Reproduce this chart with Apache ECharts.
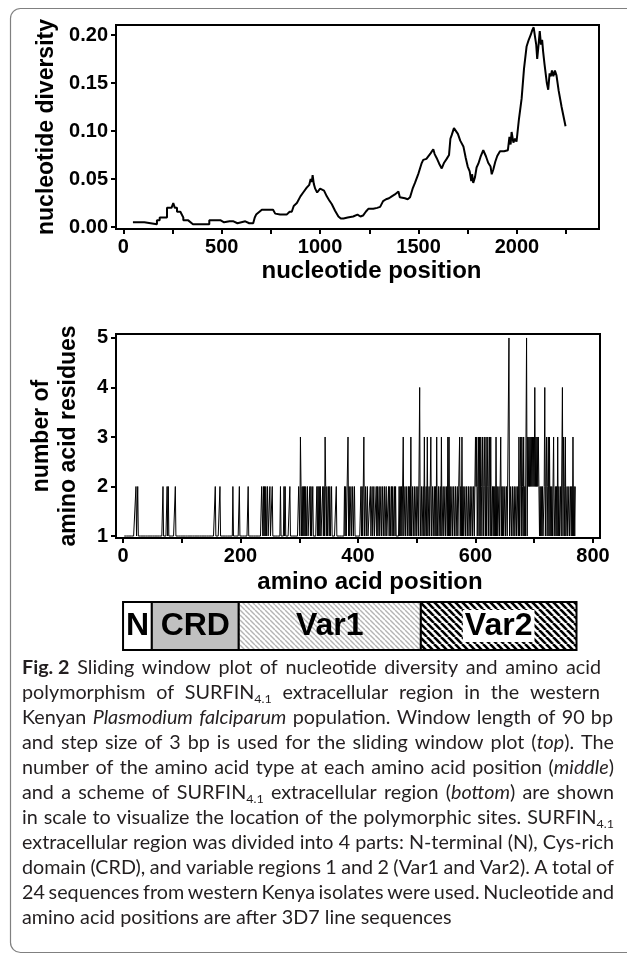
<!DOCTYPE html>
<html>
<head>
<meta charset="utf-8">
<script src="https://cdn.jsdelivr.net/npm/echarts@6/dist/echarts.min.js"></script>
<style>
  html, body { margin: 0; padding: 0; background: #fff; }
  #chart { width: 627px; height: 954px; }
</style>
</head>
<body>
<div id="chart"></div>
<script>
// top panel: sliding window nucleotide diversity [position, pi]
const ntDiversity = [
  [49,0.005],[107,0.005],[107,0.003],[171,0.003],[171,0.007],[185,0.007],[185,0.010],[222,0.010],
  [222,0.020],[245,0.020],[254,0.025],[262,0.020],[273,0.020],[273,0.016],[290,0.016],[305,0.010],
  [305,0.007],[330,0.007],[354,0.003],[437,0.003],[437,0.007],[495,0.007],[505,0.008],[512,0.005],
  [540,0.006],[560,0.006],[580,0.004],[620,0.006],[640,0.004],[660,0.004],[668,0.010],[675,0.013],
  [704,0.018],[761,0.018],[772,0.014],[797,0.013],[830,0.013],[845,0.016],[856,0.016],[866,0.022],
  [882,0.025],[900,0.032],[914,0.036],[932,0.041],[945,0.044],[952,0.050],[958,0.047],[962,0.054],
  [968,0.045],[975,0.040],[985,0.036],[995,0.038],[1000,0.040],[1010,0.038],[1020,0.038],[1034,0.032],
  [1046,0.028],[1059,0.024],[1076,0.017],[1093,0.011],[1105,0.009],[1119,0.009],[1140,0.010],[1168,0.011],
  [1190,0.013],[1205,0.011],[1218,0.012],[1232,0.016],[1245,0.019],[1270,0.019],[1290,0.020],[1305,0.021],
  [1320,0.027],[1335,0.029],[1350,0.030],[1364,0.032],[1380,0.034],[1398,0.037],[1405,0.031],[1415,0.032],
  [1431,0.030],[1445,0.029],[1457,0.031],[1470,0.040],[1482,0.046],[1500,0.056],[1515,0.066],[1524,0.070],
  [1540,0.071],[1550,0.071],[1562,0.077],[1575,0.081],[1582,0.076],[1592,0.072],[1605,0.066],[1618,0.061],
  [1630,0.067],[1643,0.071],[1655,0.075],[1662,0.092],[1669,0.096],[1680,0.103],[1690,0.101],[1700,0.097],
  [1712,0.090],[1728,0.084],[1740,0.072],[1750,0.063],[1760,0.058],[1768,0.048],[1772,0.055],[1778,0.046],
  [1787,0.052],[1795,0.062],[1804,0.066],[1815,0.073],[1829,0.080],[1842,0.074],[1854,0.067],[1866,0.063],
  [1872,0.055],[1880,0.060],[1890,0.068],[1900,0.074],[1914,0.079],[1935,0.079],[1954,0.080],[1962,0.094],
  [1968,0.086],[1973,0.099],[1982,0.088],[1990,0.092],[1998,0.089],[2010,0.112],[2024,0.134],[2036,0.165],
  [2049,0.188],[2060,0.195],[2070,0.200],[2078,0.205],[2085,0.208],[2092,0.198],[2098,0.190],[2103,0.175],
  [2110,0.190],[2116,0.204],[2122,0.190],[2128,0.195],[2133,0.183],[2140,0.170],[2152,0.150],[2159,0.143],
  [2166,0.160],[2172,0.157],[2178,0.163],[2185,0.157],[2193,0.163],[2201,0.158],[2212,0.142],[2227,0.125],
  [2240,0.112],[2247,0.105]
];
const ntTicks = [0,250,500,750,1000,1250,1500,1750,2000,2250];
const ntLabels = [0,500,1000,1500,2000];
const piLabels = [0,0.05,0.10,0.15,0.20];

// middle panel: number of amino acid types per position (all others = 1)
const aaFirst = 2;
const aaLast = 770;
const aaTwo = [22,25,68,75,77,89,157,165,187,198,213,236,237,239,241,243,246,250,254,268,274,276,284,
  299,300,303,305,307,309,311,314,318,320,323,330,332,334,336,340,342,345,347,350,352,355,363,377,379,
  385,388,391,394,405,407,413,416,421,424,427,431,433,436,439,442,445,448,452,454,457,459,462,464,470,
  472,474,480,483,486,488,493,496,499,502,508,511,516,521,527,530,532,537,540,545,548,551,557,560,563,
  566,569,575,579,582,585,588,591,594,597,601,604,610,613,616,620,623,629,631,633,637,640,645,647,650,
  653,660,663,666,669,672,676,680,684,690,692,694,696,698,700,702,704,706,708,710,712,714,717,720,723,
  728,730,736,738,742,745,751,756,759,762,764,768,770];
const aaThree = [302,344,383,410,477,490,513,518,524,534,542,553,555,573,577,600,602,605,607,609,612,
  615,618,621,624,626,635,643,674,677,679,682,686,689,691,693,695,697,699,703,705,707,721,724,726,733,
  740,750,753,766];
const aaFour = [505,701,718,748];
const aaFive = [657,687];
const aaTicks = [0,100,200,300,400,500,600,700,800];
const aaLabels = [0,200,400,600,800];
const countLabels = [1,2,3,4,5];

// bottom scheme of the extracellular region
const segNames = ['N','CRD','Var1','Var2'];
const segStart = [0,49,197,507];
const segEnd = [49,197,507,772];

const captionLines = [
  '{b|Fig. 2}  Sliding window plot of nucleotide diversity and amino acid',
  'polymorphism of SURFIN{s|4.1} extracellular region in the western',
  'Kenyan {i|Plasmodium} {i|falciparum} population. Window length of 90 bp',
  'and step size of 3 bp is used for the sliding window plot ({i|top}). The',
  'number of the amino acid type at each amino acid position ({i|middle})',
  'and a scheme of SURFIN{s|4.1} extracellular region ({i|bottom}) are shown',
  'in scale to visualize the location of the polymorphic sites. SURFIN{s|4.1}',
  'extracellular region was divided into 4 parts: N-terminal (N), Cys-rich',
  'domain (CRD), and variable regions 1 and 2 (Var1 and Var2). A total of',
  '24 sequences from western Kenya isolates were used. Nucleotide and',
  'amino acid positions are after 3D7 line sequences'
];

const aaSets = [new Set(aaTwo), new Set(aaThree), new Set(aaFour), new Set(aaFive)];
const aaData = [];
for (let p = aaFirst; p <= aaLast; p++) {
  let v = 1;
  aaSets.forEach((s, k) => { if (s.has(p)) v = k + 2; });
  aaData.push([p, v]);
}

function hatch(size, color, width) {
  const c = document.createElement('canvas');
  c.width = size; c.height = size;
  const ctx = c.getContext('2d');
  ctx.fillStyle = '#fff';
  ctx.fillRect(0, 0, size, size);
  ctx.strokeStyle = color;
  ctx.lineWidth = width;
  for (let k = -1; k <= 1; k++) {
    ctx.beginPath();
    ctx.moveTo(k * size, 0);
    ctx.lineTo(k * size + size, size);
    ctx.stroke();
  }
  return c;
}
const segFills = [
  '#fff',
  '#c0c0c0',
  { image: hatch(5, '#b4b4b4', 1.4), repeat: 'repeat' },
  { image: hatch(7, '#000', 2.6), repeat: 'repeat' }
];

const AX = '"Liberation Sans", Arial, sans-serif';
const CAP = 'Lato, "Open Sans", sans-serif';
const CAP_SIZE = 19;
const CAP_SCALE = 1.04;
const CAP_LEFT = 22, CAP_TOP = 668, CAP_STEP = 25;
// right edge of each caption line (0 = natural spacing)
const capRight = [601, 600, 613, 614, 614, 614, 614, 614, 614, 614, 0];

// caption: one text element per word, spread to each line's right edge
const capFonts = {
  n: CAP_SIZE + 'px ' + CAP,
  b: 'bold ' + CAP_SIZE + 'px ' + CAP,
  i: 'italic ' + CAP_SIZE + 'px ' + CAP,
  s: '12px ' + CAP
};
const capRich = {
  b: { fontFamily: CAP, fontSize: CAP_SIZE, fontWeight: 'bold', fill: '#231f20', lineHeight: 25 },
  i: { fontFamily: CAP, fontSize: CAP_SIZE, fontStyle: 'italic', fill: '#231f20', lineHeight: 25 },
  s: { fontFamily: CAP, fontSize: 12, fill: '#231f20', verticalAlign: 'bottom', lineHeight: 25 }
};
const meas = document.createElement('canvas').getContext('2d');
function splitWords(line) {
  const words = [];
  let cur = '', depth = 0;
  for (const ch of line) {
    if (ch === '{') depth++;
    if (ch === '}') depth--;
    if (ch === ' ' && depth === 0) { if (cur) words.push(cur); cur = ''; }
    else cur += ch;
  }
  if (cur) words.push(cur);
  return words;
}
function wordWidth(w) {
  let total = 0;
  w.replace(/\{(\w)\|([^}]*)\}|([^{}]+)/g, (m, k, t, plain) => {
    meas.font = capFonts[k || 'n'];
    total += meas.measureText(k ? t : plain).width;
    return m;
  });
  return total * CAP_SCALE;
}
meas.font = capFonts.n;
const spaceW = meas.measureText(' ').width * CAP_SCALE;
const captionGraphics = [];
captionLines.forEach((line, k) => {
  const words = splitWords(line);
  const widths = words.map(wordWidth);
  const sum = widths.reduce((a, b) => a + b, 0);
  const gap = capRight[k] ? (capRight[k] - CAP_LEFT - sum) / (words.length - 1) : spaceW;
  let x = CAP_LEFT;
  words.forEach((w, j) => {
    captionGraphics.push({
      type: 'text', x: x, y: CAP_TOP + k * CAP_STEP, scaleX: CAP_SCALE, silent: true,
      style: {
        text: w, fill: '#231f20', fontFamily: CAP, fontSize: CAP_SIZE,
        verticalAlign: 'middle', lineHeight: 25, rich: capRich
      }
    });
    x += widths[j] + gap;
  });
});

function axisCommon(ticks, labels, fmt) {
  return {
    splitLine: { show: false },
    axisLine: { onZero: false, lineStyle: { color: '#000', width: 2 } },
    axisTick: { customValues: ticks, length: 5, lineStyle: { color: '#000', width: 2 } },
    axisLabel: {
      customValues: labels, formatter: fmt, color: '#000', fontSize: 20,
      fontWeight: 'bold', fontFamily: AX
    }
  };
}
const nameStyle = { color: '#000', fontSize: 24, fontWeight: 'bold', fontFamily: AX };

const chart = echarts.init(document.getElementById('chart'));
const option = {
  animation: false,
  grid: [
    { left: 116, top: 25, width: 483, height: 204, show: true, borderColor: '#000', borderWidth: 2 },
    { left: 116, top: 334, width: 484, height: 204, show: true, borderColor: '#000', borderWidth: 2 },
    { left: 116, top: 602, width: 484, height: 48 }
  ],
  xAxis: [
    Object.assign(axisCommon(ntTicks, ntLabels, v => String(v)), {
      type: 'value', gridIndex: 0, min: -37, max: 2417,
      name: 'nucleotide position', nameLocation: 'middle', nameGap: 30,
      nameTextStyle: Object.assign({ padding: [0, 0, 0, 28] }, nameStyle)
    }),
    Object.assign(axisCommon(aaTicks, aaLabels, v => String(v)), {
      type: 'value', gridIndex: 1, min: -12, max: 812,
      name: 'amino acid position', nameLocation: 'middle', nameGap: 32,
      nameTextStyle: Object.assign({ padding: [0, 0, 0, 24] }, nameStyle)
    }),
    { type: 'value', gridIndex: 2, min: -12, max: 812, show: false }
  ],
  yAxis: [
    Object.assign(axisCommon(piLabels, piLabels, v => v.toFixed(2)), {
      type: 'value', gridIndex: 0, min: -0.002, max: 0.2104,
      name: 'nucleotide diversity', nameLocation: 'middle', nameGap: 54,
      nameTextStyle: Object.assign({}, nameStyle, { fontSize: 23 })
    }),
    Object.assign(axisCommon(countLabels, countLabels, v => String(v)), {
      type: 'value', gridIndex: 1, min: 0.96, max: 5.08,
      name: 'number of\namino acid residues', nameLocation: 'middle', nameGap: 34,
      nameTextStyle: Object.assign({}, nameStyle, { fontSize: 23, lineHeight: 27 })
    }),
    { type: 'value', gridIndex: 2, min: 0, max: 1, show: false }
  ],
  series: [
    {
      type: 'line', xAxisIndex: 0, yAxisIndex: 0, data: ntDiversity,
      showSymbol: false, lineStyle: { color: '#000', width: 2 }
    },
    {
      type: 'line', xAxisIndex: 1, yAxisIndex: 1, data: aaData,
      showSymbol: false, lineStyle: { color: '#000', width: 1 }
    },
    {
      type: 'custom', xAxisIndex: 2, yAxisIndex: 2,
      data: segNames.map((n, i) => [segStart[i], segEnd[i], i]),
      renderItem: (params, api) => {
        const a = api.coord([api.value(0), 1]);
        const b = api.coord([api.value(1), 0]);
        const i = api.value(2);
        return {
          type: 'group',
          children: [
            {
              type: 'rect',
              shape: { x: a[0], y: a[1], width: b[0] - a[0], height: b[1] - a[1] },
              style: { fill: segFills[i], stroke: '#000', lineWidth: 2 }
            },
            {
              type: 'text', x: (a[0] + b[0]) / 2, y: (a[1] + b[1]) / 2,
              style: {
                text: segNames[i], align: 'center', verticalAlign: 'middle',
                font: 'bold 32px ' + AX, fill: '#000',
                backgroundColor: i === 3 ? '#fff' : null, padding: i === 3 ? [0, 2] : 0
              }
            }
          ]
        };
      }
    }
  ],
  graphic: [
    {
      type: 'rect', shape: { x: 10.5, y: 8.5, width: 640, height: 944, r: 10 },
      style: { fill: 'none', stroke: '#808080', lineWidth: 1.2 }, silent: true
    }
  ].concat(captionGraphics)
};
chart.setOption(option);
</script>
</body>
</html>
